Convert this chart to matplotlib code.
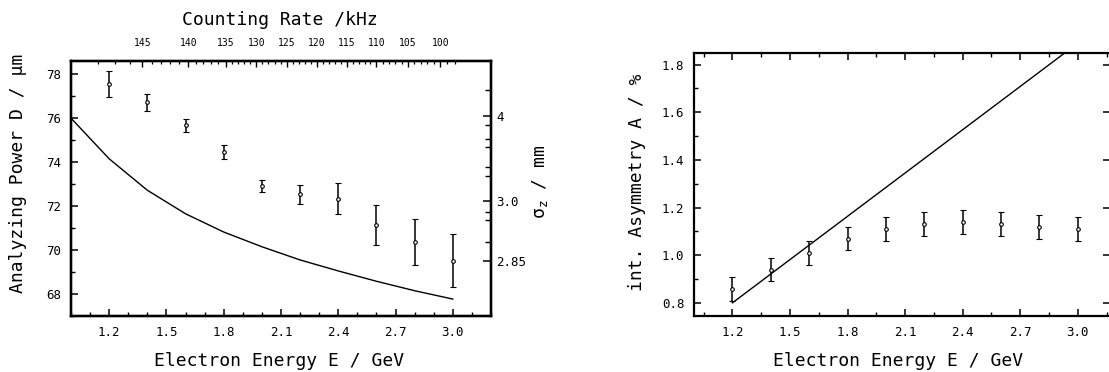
import numpy as np
import matplotlib.pyplot as plt
from matplotlib.ticker import MultipleLocator, FixedLocator

plt.rcParams['font.family'] = ['DejaVu Sans Mono', 'DejaVu Sans']
plt.rcParams['mathtext.fontset'] = 'dejavusans'

# left panel: analyzing power vs electron energy
energy = [1.2, 1.4, 1.6, 1.8, 2.0, 2.2, 2.4, 2.6, 2.8, 3.0]
power = [77.56, 76.72, 75.67, 74.46, 72.92, 72.54, 72.33, 71.14, 70.38, 69.52]
power_err = [0.59, 0.40, 0.31, 0.30, 0.27, 0.44, 0.70, 0.90, 1.05, 1.20]

# sigma_z curve, drawn on the D scale
curve_e = [1.0, 1.2, 1.4, 1.6, 1.8, 2.0, 2.2, 2.4, 2.6, 2.8, 3.0]
curve_d = [76.0, 74.15, 72.72, 71.65, 70.82, 70.15, 69.55, 69.05, 68.58, 68.15, 67.77]

# right-hand sigma_z scale (tick positions in D units)
sigz_pos = [76.12, 72.23, 69.5]
sigz_labels = ['4', '3.0', '2.85']
sigz_minor = [77.29, 75.67, 75.03, 74.68, 73.77, 73.35, 71.73, 71.35, 70.36]

# top counting-rate scale (tick positions in energy units)
rate_labels = ['145', '140', '135', '130', '125', '120', '115', '110', '105', '100']
rate_pos = [1.374, 1.615, 1.811, 1.970, 2.131, 2.288, 2.445, 2.599, 2.765, 2.934]
rate_minor_outer = [1.14, 1.23, 1.31, 2.97, 3.01]

# right panel: integrated asymmetry
asym = [0.86, 0.94, 1.01, 1.07, 1.11, 1.13, 1.14, 1.13, 1.12, 1.11]
asym_err = [0.05, 0.05, 0.05, 0.05, 0.05, 0.05, 0.05, 0.05, 0.05, 0.05]
line_e = [1.2, 3.0]
line_a = [0.80, 1.89]

W, H = 1109, 372
fig = plt.figure(figsize=(W / 100, H / 100), dpi=100)

def box(x0, y0, x1, y1):
    return [x0 / W, 1 - y1 / H, (x1 - x0) / W, (y1 - y0) / H]

ebar = dict(fmt='o', ms=2.6, mfc='white', mec='black', mew=0.8,
            ecolor='black', elinewidth=1.1, capsize=2.2, capthick=1.1, zorder=3)
lab = dict(fontsize=13, va='center', ha='center')

# ---------------- left panel ----------------
ax = fig.add_axes(box(71, 61, 491, 316))
ax.errorbar(energy, power, yerr=power_err, **ebar)
ax.plot(curve_e, curve_d, color='black', lw=1.0)
ax.set_xlim(1.0, 3.2)
ax.set_ylim(67, 78.6)
ax.xaxis.set_major_locator(FixedLocator([1.2, 1.5, 1.8, 2.1, 2.4, 2.7, 3.0]))
ax.xaxis.set_minor_locator(MultipleLocator(0.1))
ax.xaxis.set_major_formatter(plt.FuncFormatter(lambda v, p: f'{v:.1f}'))
ax.yaxis.set_major_locator(MultipleLocator(2))
ax.yaxis.set_minor_locator(MultipleLocator(1))
ax.tick_params(which='both', direction='in', top=False, right=False, labelsize=9, pad=7)
ax.tick_params(which='major', length=5, width=1.1)
ax.tick_params(which='minor', length=3, width=1.0)
ax.set_xlabel('Electron Energy E / GeV', **lab)
ax.xaxis.set_label_coords(0.495, -0.176)
ax.set_ylabel('Analyzing Power D / µm', **lab)
ax.yaxis.set_label_coords(-0.126, 0.56)

axr = ax.twinx()
axr.set_ylim(ax.get_ylim())
axr.yaxis.set_major_locator(FixedLocator(sigz_pos))
axr.yaxis.set_minor_locator(FixedLocator(sigz_minor))
axr.set_yticklabels(sigz_labels)
axr.tick_params(which='both', direction='in', labelsize=9, pad=4)
axr.tick_params(which='major', length=6, width=1.1)
axr.tick_params(which='minor', length=4, width=1.0)
axr.set_ylabel(r'σ$_{\mathregular{z}}$ / mm', rotation=90, **lab)
axr.yaxis.set_label_coords(1.117, 0.525)

axt = ax.twiny()
axt.set_xlim(ax.get_xlim())
minor = list(rate_minor_outer)
for a, b in zip(rate_pos[:-1], rate_pos[1:]):
    minor += list(np.linspace(a, b, 6)[1:-1])
axt.xaxis.set_major_locator(FixedLocator(rate_pos))
axt.xaxis.set_minor_locator(FixedLocator(minor))
axt.set_xticklabels(rate_labels)
axt.tick_params(which='both', direction='in', labelsize=7, pad=9)
axt.tick_params(which='major', length=4, width=1.0)
axt.tick_params(which='minor', length=2.5, width=0.9)
axt.set_xlabel('Counting Rate /kHz', **lab)
axt.xaxis.set_label_coords(0.498, 1.161)

for a in (ax, axr, axt):
    for s in a.spines.values():
        s.set_linewidth(1.6)

# ---------------- right panel ----------------
bx = fig.add_axes(box(694, 52.7, 1110, 316))
bx.errorbar(energy, asym, yerr=asym_err, **ebar)
bx.plot(line_e, line_a, color='black', lw=1.0)
bx.set_xlim(1.0, 3.168)
bx.set_ylim(0.745, 1.85)
bx.xaxis.set_major_locator(FixedLocator([1.2, 1.5, 1.8, 2.1, 2.4, 2.7, 3.0]))
bx.xaxis.set_minor_locator(FixedLocator([1.05, 1.35, 1.65, 1.95, 2.25, 2.55, 2.85, 3.15]))
bx.xaxis.set_major_formatter(plt.FuncFormatter(lambda v, p: f'{v:.1f}'))
bx.yaxis.set_major_locator(MultipleLocator(0.2))
bx.yaxis.set_minor_locator(MultipleLocator(0.1))
bx.yaxis.set_major_formatter(plt.FuncFormatter(lambda v, p: f'{v:.1f}'))
bx.tick_params(which='both', direction='in', top=True, labelsize=9, pad=7)
bx.tick_params(axis='y', which='minor', right=False)
bx.tick_params(axis='y', which='major', right=True)
bx.tick_params(which='major', length=5, width=1.1)
bx.tick_params(which='minor', length=3, width=1.0)
bx.set_xlabel('Electron Energy E / GeV', **lab)
bx.xaxis.set_label_coords(0.49, -0.171)
bx.set_ylabel('int. Asymmetry A / %', **lab)
bx.yaxis.set_label_coords(-0.137, 0.507)
for s in bx.spines.values():
    s.set_linewidth(1.6)

fig.savefig('out.png', dpi=100)
